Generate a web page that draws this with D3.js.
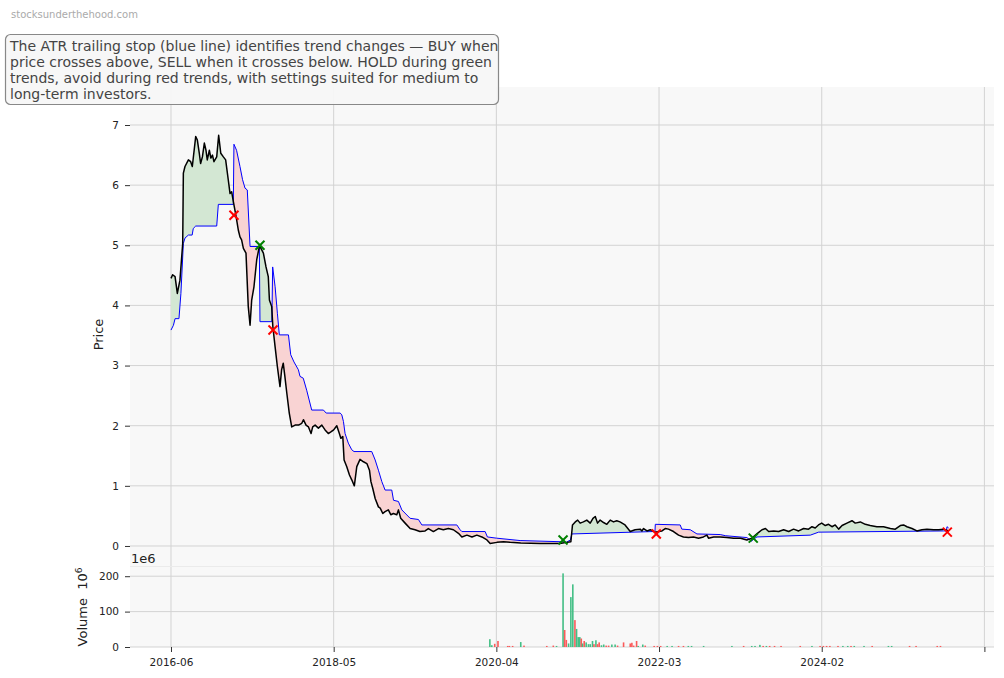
<!DOCTYPE html>
<html>
<head>
<meta charset="utf-8">
<script src="https://cdn.jsdelivr.net/npm/d3@7"></script>
<style>
  html, body { margin: 0; padding: 0; background: #ffffff; }
  svg { display: block; font-family: "DejaVu Sans", sans-serif; }
</style>
</head>
<body>
<svg id="chart" width="1004" height="678"></svg>
<script>
// ---------------- DATA (week index since 2016-06, value) ----------------
const xTickValues = [0, 100, 200, 300, 400, 500];
const xTickLabels = ["2016-06", "2018-05", "2020-04", "2022-03", "2024-02", ""];
const priceTicks = [0, 1, 2, 3, 4, 5, 6, 7];
const volumeTicks = [0, 100, 200];

const closeWeeks = [0,1,2.5,3.9,5.5,7.2,7.6,8.6,10.7,12.1,13.1,15.2,16.2,17.4,18.2,19.3,20.5,21.5,22.3,23.6,24.5,25.5,26.4,28.1,29.3,30.6,32.2,33.6,35.2,36.3,37.3,38.3,40,41.4,42.4,43.4,44.5,46.1,47.5,48.6,49.6,51,52.7,54.3,55.3,56.8,58.4,59.8,60.5,61.9,62.6,64,65.4,67,68,69,70,71.2,72.7,74.2,76.3,78.4,80.4,81.4,83,84.5,86.1,87.1,88.6,90.6,92.7,94.7,96.7,98.5,100,101.9,103.5,104.4,105.6,106.4,108,109.7,111.1,112.7,114.2,116.2,118.3,120.4,122,122.9,124,125.5,127.5,128.6,130.2,131.6,133.6,135.1,136.7,138.8,139.8,141.2,143.9,147,150,153,156.2,158.2,161.3,164.4,167.4,170.5,173.6,176.7,178.8,181.9,185,188,191.1,194.2,196.2,200.3,204.4,208.5,215,227,239,243.4,245.8,246.8,248.5,250,251.5,253.5,255.6,257.7,259.4,260.8,262.2,263.8,265.9,267.9,270,272,274,276,279.1,282.3,285.3,288.4,289.5,290.5,292.6,294.6,297.7,299.8,301.8,303.8,305.8,308.9,312,315,318.1,321.2,324.3,327.3,329.4,330.4,333.6,337.6,341.7,345.8,350.1,354,357.1,360.5,363.3,365.4,367.4,370.5,373.5,376.6,379.7,382.7,385.8,388.9,391.9,394,396,398,400,402.2,404.2,406.3,408.3,410.4,412.5,415.5,418.6,420.6,423.7,426.8,429.8,433.9,438,442.2,445.2,448.3,450.3,452.4,455.5,458.5,461.6,464.7,468.8,471.9,475,478];
const closeValues = [4.45,4.51,4.48,4.20,4.42,5.03,6.20,6.31,6.42,6.39,6.31,6.81,6.75,6.53,6.36,6.47,6.70,6.58,6.42,6.58,6.45,6.50,6.39,6.47,6.83,6.53,6.47,6.42,6.09,5.86,5.89,5.73,5.48,5.25,5.14,5.09,4.95,4.87,3.98,3.67,4.09,4.31,4.76,4.98,4.95,4.87,4.64,4.48,4.09,3.98,3.65,3.31,2.98,2.65,2.93,3.04,2.82,2.54,2.21,1.98,2.01,2.01,2.04,2.10,2.01,1.98,1.87,1.98,2.01,1.96,2.01,1.93,1.87,1.90,1.93,2.00,1.87,1.79,1.82,1.43,1.32,1.18,1.10,1.00,1.32,1.44,1.40,1.37,1.26,1.07,0.96,0.79,0.65,0.63,0.54,0.57,0.60,0.52,0.54,0.52,0.60,0.46,0.38,0.29,0.27,0.24,0.25,0.29,0.24,0.29,0.27,0.29,0.27,0.21,0.15,0.18,0.15,0.18,0.15,0.10,0.04,0.06,0.07,0.06,0.05,0.04,0.04,0.06,0.07,0.35,0.40,0.43,0.38,0.40,0.43,0.38,0.46,0.49,0.38,0.43,0.39,0.36,0.43,0.40,0.42,0.40,0.35,0.24,0.27,0.28,0.25,0.29,0.25,0.27,0.23,0.24,0.25,0.29,0.28,0.24,0.18,0.15,0.14,0.15,0.13,0.15,0.18,0.13,0.15,0.15,0.14,0.13,0.13,0.10,0.13,0.21,0.27,0.29,0.24,0.25,0.24,0.27,0.24,0.28,0.25,0.29,0.28,0.32,0.30,0.35,0.38,0.34,0.36,0.32,0.35,0.28,0.34,0.38,0.42,0.38,0.40,0.36,0.34,0.32,0.32,0.29,0.28,0.34,0.35,0.32,0.29,0.25,0.27,0.28,0.27,0.27,0.28,0.25];

const stopWeeks = [0,1.5,2.5,4.9,6.1,7.6,8.6,10.7,13,13.7,15.2,28.1,29.1,38.3,38.7,40.3,42.4,44,45.5,46.9,48.6,54.3,54.7,62.0,62.5,64,65.4,66.6,72.2,73.6,75.6,78.3,79.3,81.3,83.4,86.5,93.7,95.4,104,105,106,107,109,111.1,112.5,123.4,125.5,127.5,129.6,131.6,135.7,136.8,139.8,141.9,147,152.1,154.2,175.7,177.7,178.8,193.1,194.5,200,214.6,240.3,243,245.5,246.4,296.6,297.5,297.7,313,314,319.2,323.3,337.6,341,354,356.8,358.5,360.2,393,398.1,475,476.6,477,478];
const stopValues = [3.59,3.67,3.78,3.78,4.20,5.03,5.12,5.17,5.17,5.28,5.32,5.32,5.68,5.68,6.68,6.58,6.31,6.09,5.95,5.92,4.98,4.98,3.73,3.73,4.64,4.31,3.87,3.51,3.51,3.18,3.06,2.93,2.82,2.79,2.59,2.26,2.26,2.21,2.21,2.18,2.07,1.87,1.71,1.60,1.57,1.57,1.43,1.26,1.07,0.93,0.93,0.76,0.74,0.60,0.46,0.44,0.35,0.35,0.27,0.24,0.24,0.15,0.13,0.09,0.07,0.06,0.10,0.20,0.24,0.24,0.36,0.35,0.28,0.27,0.20,0.19,0.17,0.14,0.08,0.12,0.15,0.18,0.23,0.25,0.25,0.32,0.30];

const buyWeeks = [54.7, 241, 357.9];
const buyValues = [5.00, 0.10, 0.13];
const sellWeeks = [38.7, 62.7, 298.3, 477.2];
const sellValues = [5.50, 3.59, 0.20, 0.23];

// volume in millions, up = 1 (green) / 0 (red)
const volWeeks = [196,197.2,199,201,207,208,210,215,217,231,235,237,241,242,243,244.4,245.8,247,248.3,249.3,250.3,251.3,252.2,253,254,255.2,256.6,257.7,259.1,260,261.2,262.2,263.2,264.6,266,267.5,269,271,273,274.5,278.2,282.3,283.3,284.4,286.2,287.2,290,291.5,297,299,301,305,308,312,315,318,320,327.4,344.8,352,357,359,362,364,366,368,371,375,386.8,394,399,401,403,405,410,413,416,418,420,426,431,441,443,454,458,471,473];
const volValues = [22,5,9,17,3,3,3,14,4,3,4,3,208,48,20,10,141,177,76,51,28,28,24,10,17,13,8,8,17,8,19,8,13,5,7,4,4,7,7,4,13,10,12,4,17,3,7,4,3,3,3,3,3,3,3,3,3,3,3,3,3,3,6,3,3,3,3,3,3,3,3,3,3,3,3,3,3,3,3,3,3,3,3,3,3,3,3];
const volUp = [1,1,0,0,0,0,0,1,0,0,0,1,1,0,0,1,1,1,0,1,1,1,0,1,0,1,1,1,1,0,1,0,0,1,1,0,0,1,1,0,0,0,0,0,0,1,1,0,0,0,0,1,1,0,0,1,1,1,1,0,1,1,1,0,1,0,0,0,0,1,0,0,0,0,0,1,1,0,1,1,0,1,1,0,0,0,0];

const annotationLines = [
  "The ATR trailing stop (blue line) identifies trend changes \u2014 BUY when",
  "price crosses above, SELL when it crosses below. HOLD during green",
  "trends, avoid during red trends, with settings suited for medium to",
  "long-term investors."
];

// ---------------- LAYOUT ----------------
const svg = d3.select("#chart");
const L = 130, R = 994;
const pTop = 87, pBot = 566, vTop = 567, vBot = 647;

const x = d3.scaleLinear().domain([-25.2, 505.9]).range([L, R]);
const yP = d3.scaleLinear().domain([-0.333, 7.632]).range([pBot, pTop]);
const yV = d3.scaleLinear().domain([0, 226]).range([vBot, vTop]);

const gridColor = "#d3d3d3";
const tickFont = "10.5px";

// panel backgrounds
svg.append("rect").attr("x", L).attr("y", pTop).attr("width", R - L).attr("height", pBot - pTop).attr("fill", "#f8f8f8");
svg.append("rect").attr("x", L).attr("y", vTop).attr("width", R - L).attr("height", vBot - vTop).attr("fill", "#f8f8f8");
svg.append("line").attr("x1", L).attr("x2", R).attr("y1", 566.5).attr("y2", 566.5).attr("stroke", "#ebebeb");

// grids
const gridG = svg.append("g");
xTickValues.forEach(v => {
  [[pTop, pBot], [vTop, vBot]].forEach(([a, b]) => {
    gridG.append("line").attr("x1", x(v)).attr("x2", x(v)).attr("y1", a).attr("y2", b)
      .attr("stroke", gridColor).attr("stroke-width", 1);
  });
});
priceTicks.forEach(v => {
  gridG.append("line").attr("x1", L).attr("x2", R).attr("y1", yP(v)).attr("y2", yP(v))
    .attr("stroke", gridColor).attr("stroke-width", 1);
});
volumeTicks.forEach(v => {
  gridG.append("line").attr("x1", L).attr("x2", R).attr("y1", yV(v)).attr("y2", yV(v))
    .attr("stroke", gridColor).attr("stroke-width", 1);
});

// ---------------- FILLS between price and stop ----------------
function interp(xs, ys, t) {
  if (t <= xs[0]) return ys[0];
  if (t >= xs[xs.length - 1]) return ys[ys.length - 1];
  let i = d3.bisectRight(xs, t) - 1;
  if (i >= xs.length - 1) i = xs.length - 2;
  const f = (t - xs[i]) / (xs[i + 1] - xs[i]);
  return ys[i] + f * (ys[i + 1] - ys[i]);
}
const xsU = Array.from(new Set(closeWeeks.concat(stopWeeks))).sort((a, b) => a - b)
  .filter(t => t >= 0 && t <= 478);
let samples = xsU.map(t => ({ t, p: interp(closeWeeks, closeValues, t), s: interp(stopWeeks, stopValues, t) }));
const withCross = [];
for (let i = 0; i < samples.length; i++) {
  withCross.push(samples[i]);
  if (i < samples.length - 1) {
    const a = samples[i], b = samples[i + 1];
    const da = a.p - a.s, db = b.p - b.s;
    if (da * db < 0) {
      const f = da / (da - db);
      const t = a.t + f * (b.t - a.t);
      const v = a.s + f * (b.s - a.s);
      withCross.push({ t, p: v, s: v });
    }
  }
}
const areaG = d3.area().x(d => x(d.t)).y0(d => yP(d.s)).y1(d => yP(Math.max(d.p, d.s)));
const areaR = d3.area().x(d => x(d.t)).y0(d => yP(d.s)).y1(d => yP(Math.min(d.p, d.s)));
svg.append("path").attr("d", areaG(withCross)).attr("fill", "#d3e7d3");
svg.append("path").attr("d", areaR(withCross)).attr("fill", "#f9d3d3");

// ---------------- LINES ----------------
const lineGen = d3.line().x(d => x(d[0])).y(d => yP(d[1]));
svg.append("path").attr("d", lineGen(stopWeeks.map((w, i) => [w, stopValues[i]])))
  .attr("fill", "none").attr("stroke", "#0000ff").attr("stroke-width", 1);
svg.append("path").attr("d", lineGen(closeWeeks.map((w, i) => [w, closeValues[i]])))
  .attr("fill", "none").attr("stroke", "#000000").attr("stroke-width", 1.5).attr("stroke-linejoin", "round");

// markers
function drawX(wk, val, color) {
  const cx = x(wk), cy = yP(val), r = 4.5;
  const g = svg.append("g");
  g.append("line").attr("x1", cx - r).attr("y1", cy - r).attr("x2", cx + r).attr("y2", cy + r).attr("stroke", color).attr("stroke-width", 2);
  g.append("line").attr("x1", cx - r).attr("y1", cy + r).attr("x2", cx + r).attr("y2", cy - r).attr("stroke", color).attr("stroke-width", 2);
}
sellWeeks.forEach((w, i) => drawX(w, sellValues[i], "#ff0000"));
buyWeeks.forEach((w, i) => drawX(w, buyValues[i], "#008000"));

// ---------------- VOLUME ----------------
const bw = 1.6;
svg.append("g").selectAll("rect").data(volWeeks.map((w, i) => ({ w, v: volValues[i], up: volUp[i] })))
  .join("rect")
  .attr("x", d => x(d.w) - bw / 2).attr("width", bw)
  .attr("y", d => yV(d.v)).attr("height", d => vBot - yV(d.v))
  .attr("fill", d => d.up ? "#44bf86" : "#fb5a5a");

// ---------------- AXES ----------------
function styleAxis(g) {
  g.select(".domain").remove();
  g.selectAll(".tick line").attr("stroke", "#333");
  g.selectAll(".tick text").attr("fill", "#222").style("font-size", tickFont).style("font-family", "DejaVu Sans");
}
svg.append("g").attr("transform", `translate(${L},0)`)
  .call(d3.axisLeft(yP).tickValues(priceTicks).tickSize(5).tickPadding(6).tickFormat(d3.format("d")))
  .call(styleAxis);
svg.append("g").attr("transform", `translate(${L},0)`)
  .call(d3.axisLeft(yV).tickValues(volumeTicks).tickSize(5).tickPadding(6).tickFormat(d3.format("d")))
  .call(styleAxis);
svg.append("g").attr("transform", `translate(0,${vBot})`)
  .call(d3.axisBottom(x).tickValues(xTickValues).tickSize(5).tickPadding(7).tickFormat((d, i) => xTickLabels[i]))
  .call(styleAxis);

// axis labels
svg.append("text").attr("transform", `translate(103,${(pTop + pBot) / 2 + 8}) rotate(-90)`)
  .attr("text-anchor", "middle").style("font-size", "13px").attr("fill", "#222").text("Price");
const vl = svg.append("text").attr("transform", `translate(87,${(vTop + vBot) / 2}) rotate(-90)`)
  .attr("text-anchor", "middle").style("font-size", "13px").attr("fill", "#222");
vl.append("tspan").text("Volume\u00a0\u00a010");
vl.append("tspan").attr("dy", -5).style("font-size", "9px").text("6");
svg.append("text").attr("x", 131).attr("y", 563).style("font-size", "13px").attr("fill", "#222").text("1e6");

// watermark
svg.append("text").attr("x", 11).attr("y", 18).style("font-size", "10px").attr("fill", "#aaaaaa").text("stocksunderthehood.com");

// annotation box
svg.append("rect").attr("x", 5.5).attr("y", 34.5).attr("width", 493).attr("height", 70).attr("rx", 5).attr("ry", 5)
  .attr("fill", "#f7f7f7").attr("fill-opacity", 0.95).attr("stroke", "#888888").attr("stroke-width", 1.2);
const at = svg.append("text").style("font-size", "14px").attr("fill", "#444444");
annotationLines.forEach((ln, i) => {
  at.append("tspan").attr("x", 10).attr("y", 50.5 + i * 16.3).text(ln);
});
</script>
</body>
</html>
